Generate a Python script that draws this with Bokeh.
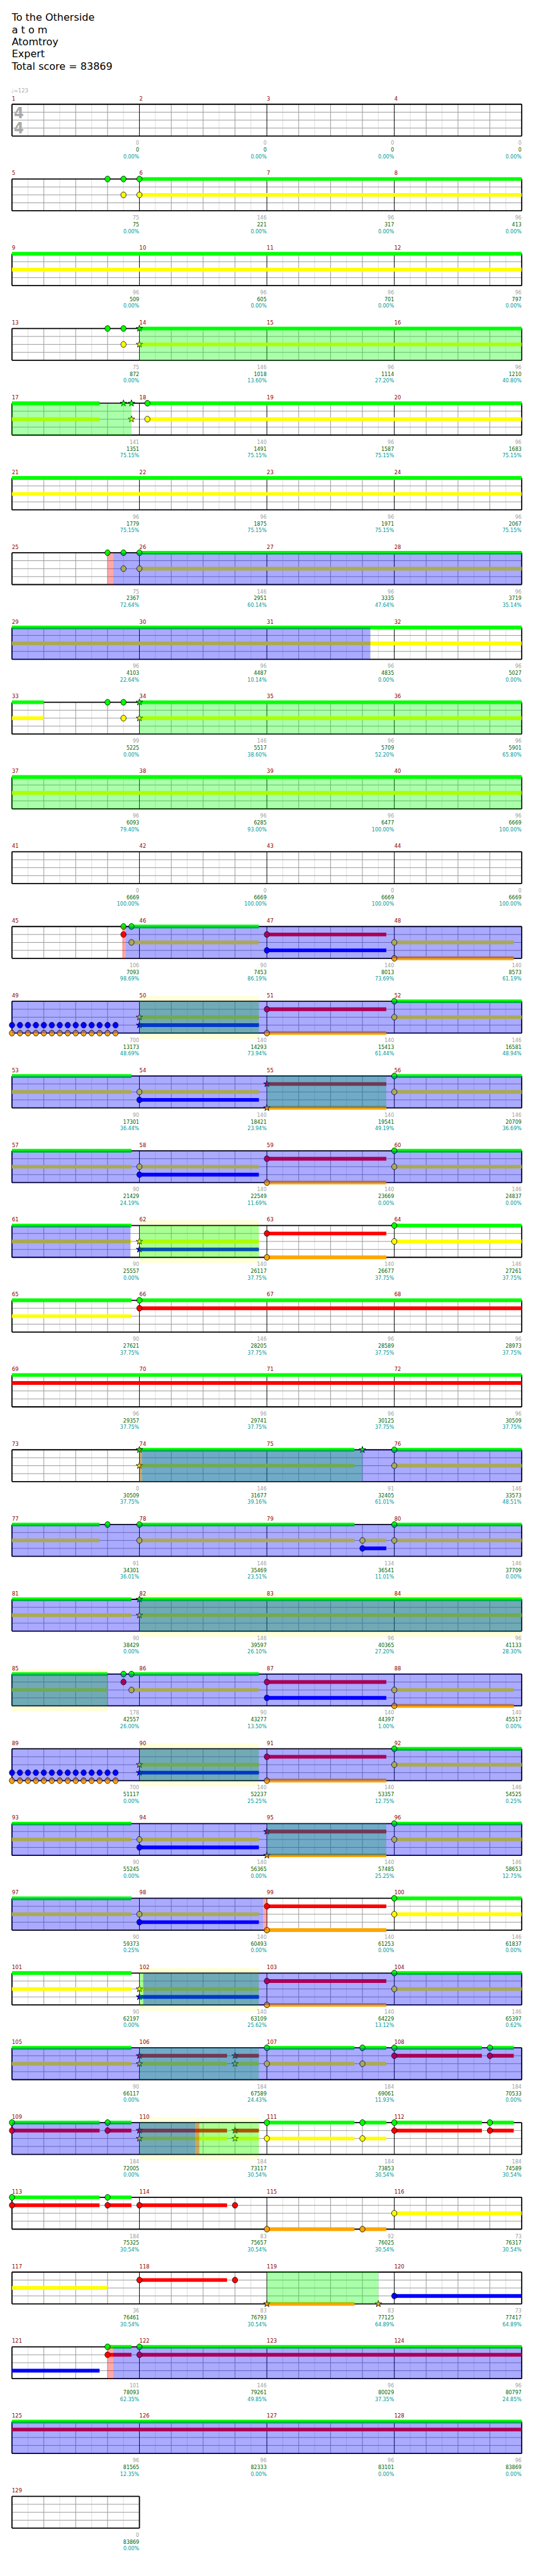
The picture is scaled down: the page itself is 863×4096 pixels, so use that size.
from bokeh.plotting import figure
from bokeh.models import Range1d, ColumnDataSource
from bokeh.core.properties import value
from bokeh.embed import file_html
from bokeh.resources import INLINE

# ---------------------------------------------------------------- data
title_lines = ["To the Otherside", "a t o m", "Atomtroy", "Expert", "Total score = 83869"]
tempo_text = "\u2669=123"
time_signature = ["4", "4"]
measure_count = 129

measure_points = [
    0, 0, 0, 0,          75, 146, 96, 96,      96, 96, 96, 96,       75, 146, 96, 96,
    141, 140, 96, 96,    96, 96, 96, 96,       75, 146, 96, 96,      96, 96, 96, 96,
    99, 146, 96, 96,     96, 96, 96, 96,       0, 0, 0, 0,           106, 90, 140, 140,
    700, 140, 140, 146,  90, 140, 140, 146,    90, 140, 140, 146,    90, 140, 140, 146,
    90, 146, 96, 96,     96, 96, 96, 96,       0, 146, 91, 146,      91, 146, 134, 146,
    90, 146, 96, 96,     178, 90, 140, 140,    700, 140, 140, 146,   90, 140, 140, 146,
    90, 140, 140, 146,   90, 140, 140, 146,    90, 184, 184, 184,    184, 184, 184, 184,
    184, 83, 92, 73,     36, 83, 83, 73,       101, 146, 96, 96,     96, 96, 96, 96,
    0,
]

cumulative_score = [
    0, 0, 0, 0,                 75, 221, 317, 413,          509, 605, 701, 797,
    872, 1018, 1114, 1210,      1351, 1491, 1587, 1683,     1779, 1875, 1971, 2067,
    2367, 2951, 3335, 3719,     4103, 4487, 4835, 5027,     5225, 5517, 5709, 5901,
    6093, 6285, 6477, 6669,     6669, 6669, 6669, 6669,     7093, 7453, 8013, 8573,
    13173, 14293, 15413, 16581, 17301, 18421, 19541, 20709, 21429, 22549, 23669, 24837,
    25557, 26117, 26677, 27261, 27621, 28205, 28589, 28973, 29357, 29741, 30125, 30509,
    30509, 31677, 32405, 33573, 34301, 35469, 36541, 37709, 38429, 39597, 40365, 41133,
    42557, 43277, 44397, 45517, 51117, 52237, 53357, 54525, 55245, 56365, 57485, 58653,
    59373, 60493, 61253, 61837, 62197, 63109, 64229, 65397, 66117, 67589, 69061, 70533,
    72005, 73117, 73853, 74589, 75325, 75657, 76025, 76317, 76461, 76793, 77125, 77417,
    78093, 79261, 80029, 80797, 81565, 82333, 83101, 83869,
    83869,
]

sp_percent = [
    0, 0, 0, 0,                 0, 0, 0, 0,                 0, 0, 0, 0,
    0, 13.60, 27.20, 40.80,     75.15, 75.15, 75.15, 75.15, 75.15, 75.15, 75.15, 75.15,
    72.64, 60.14, 47.64, 35.14, 22.64, 10.14, 0, 0,         0, 38.60, 52.20, 65.80,
    79.40, 93.00, 100, 100,     100, 100, 100, 100,         98.69, 86.19, 73.69, 61.19,
    48.69, 73.94, 61.44, 48.94, 36.44, 23.94, 49.19, 36.69, 24.19, 11.69, 0, 0,
    0, 37.75, 37.75, 37.75,     37.75, 37.75, 37.75, 37.75, 37.75, 37.75, 37.75, 37.75,
    37.75, 39.16, 61.01, 48.51, 36.01, 23.51, 11.01, 0,     0, 26.10, 27.20, 28.30,
    26.00, 13.50, 1.00, 0,      0, 25.25, 12.75, 0.25,      0, 0, 25.25, 12.75,
    0.25, 0, 0, 0,              0, 25.62, 13.12, 0.62,      0, 24.43, 11.93, 0,
    0, 30.54, 30.54, 30.54,     30.54, 30.54, 30.54, 30.54, 30.54, 30.54, 64.89, 64.89,
    62.35, 49.85, 37.35, 24.85, 12.35, 0, 0, 0,
    0,
]

# note positions: measure number + fraction of the measure
green_notes = [5.75, 5.875, 6.0, 13.75, 13.875, 18.0625, 25.75, 25.875, 26.0, 33.75, 33.875,
               45.875, 45.9375, 52.0, 56.0, 60.0, 64.0, 66.0, 76.0, 77.75, 78.0, 80.0,
               85.875, 85.9375, 92.0, 96.0, 100.0, 104.0, 107.0, 107.75, 108.0, 108.75,
               109.0, 109.75, 111.0, 111.75, 112.0, 112.75, 113.0, 113.75, 121.75, 122.0]
green_stars = [14.0, 17.875, 17.9375, 34.0, 74.0, 75.75, 82.0]

red_notes = [45.875, 47.0, 51.0, 59.0, 63.0, 66.0, 85.875, 87.0, 91.0, 99.0, 103.0,
             108.0, 108.75, 109.0, 109.75, 112.0, 112.75, 113.0, 113.75, 114.0, 114.75,
             118.0, 118.75, 121.75, 122.0]
red_stars = [55.0, 95.0, 106.0, 106.75, 110.0, 110.75]

yellow_notes = [5.875, 6.0, 13.875, 18.0625, 25.875, 26.0, 33.875, 45.9375, 48.0, 52.0, 54.0,
                56.0, 58.0, 60.0, 64.0, 76.0, 78.0, 79.75, 80.0, 85.9375, 88.0, 92.0, 94.0,
                96.0, 98.0, 100.0, 104.0, 107.0, 107.75, 111.0, 111.75, 116.0]
yellow_stars = [14.0, 17.9375, 34.0, 50.0, 62.0, 74.0, 82.0, 90.0, 102.0, 106.0, 106.75,
                110.0, 110.75]

blue_notes = [47.0,
              49.0, 49.0625, 49.125, 49.1875, 49.25, 49.3125, 49.375, 49.4375, 49.5, 49.5625,
              49.625, 49.6875, 49.75, 49.8125,
              54.0, 58.0, 79.75, 87.0,
              89.0, 89.0625, 89.125, 89.1875, 89.25, 89.3125, 89.375, 89.4375, 89.5, 89.5625,
              89.625, 89.6875, 89.75, 89.8125,
              94.0, 98.0, 120.0]
blue_stars = [50.0, 62.0, 90.0, 102.0]

kick_notes = [48.0,
              49.0, 49.0625, 49.125, 49.1875, 49.25, 49.3125, 49.375, 49.4375, 49.5, 49.5625,
              49.625, 49.6875, 49.75, 49.8125,
              51.0, 59.0, 63.0, 88.0,
              89.0, 89.0625, 89.125, 89.1875, 89.25, 89.3125, 89.375, 89.4375, 89.5, 89.5625,
              89.625, 89.6875, 89.75, 89.8125,
              91.0, 99.0, 103.0, 115.0, 115.75]
kick_stars = [55.0, 95.0, 119.0, 119.875]

green_bars = [[6.0, 13.0], [14.0, 17.6875], [18.0625, 25.0], [26.0, 33.25], [34.0, 41.0],
              [45.9375, 46.9375], [52.0, 53.9375], [56.0, 57.9375], [60.0, 61.9375],
              [64.0, 65.9375], [66.0, 73.0], [74.0, 75.6875], [76.0, 77.6875], [78.0, 79.6875],
              [80.0, 81.9375], [82.0, 85.75], [85.9375, 86.9375], [92.0, 93.9375],
              [96.0, 97.9375], [100.0, 101.9375], [104.0, 105.9375], [107.0, 107.6875],
              [107.75, 107.9375], [108.0, 108.6875], [108.75, 108.9375], [109.0, 109.6875],
              [109.75, 109.9375], [111.0, 111.6875], [111.75, 111.9375], [112.0, 112.6875],
              [112.75, 112.9375], [113.0, 113.6875], [113.75, 113.9375], [121.75, 121.9375],
              [122.0, 129.0]]
red_bars = [[47.0, 47.9375], [51.0, 51.9375], [55.0, 55.9375], [59.0, 59.9375], [63.0, 63.9375],
            [66.0, 73.0], [87.0, 87.9375], [91.0, 91.9375], [95.0, 95.9375], [99.0, 99.9375],
            [103.0, 103.9375], [106.0, 106.6875], [106.75, 106.9375], [108.0, 108.6875],
            [108.75, 108.9375], [109.0, 109.6875], [109.75, 109.9375], [110.0, 110.6875],
            [110.75, 110.9375], [112.0, 112.6875], [112.75, 112.9375], [113.0, 113.6875],
            [113.75, 113.9375], [114.0, 114.6875], [118.0, 118.6875], [121.75, 121.9375],
            [122.0, 129.0]]
yellow_bars = [[6.0, 13.0], [14.0, 17.6875], [18.0625, 25.0], [26.0, 33.25], [34.0, 41.0],
               [45.9375, 46.9375], [48.0, 48.9375], [50.0, 50.9375], [52.0, 53.9375],
               [54.0, 54.9375], [56.0, 57.9375], [58.0, 58.9375], [60.0, 61.9375],
               [62.0, 62.9375], [64.0, 65.9375], [74.0, 75.6875], [76.0, 77.6875],
               [78.0, 79.6875], [79.75, 79.9375], [80.0, 81.9375], [82.0, 85.75],
               [85.9375, 86.9375], [88.0, 88.9375], [90.0, 90.9375], [92.0, 93.9375],
               [94.0, 94.9375], [96.0, 97.9375], [98.0, 98.9375], [100.0, 101.9375],
               [102.0, 102.9375], [104.0, 105.9375], [106.0, 106.6875], [106.75, 106.9375],
               [107.0, 107.6875], [107.75, 107.9375], [110.0, 110.6875], [110.75, 110.9375],
               [111.0, 111.6875], [111.75, 111.9375], [116.0, 117.75]]
blue_bars = [[47.0, 47.9375], [50.0, 50.9375], [54.0, 54.9375], [58.0, 58.9375], [62.0, 62.9375],
             [79.75, 79.9375], [87.0, 87.9375], [90.0, 90.9375], [94.0, 94.9375], [98.0, 98.9375],
             [102.0, 102.9375], [120.0, 121.6875]]
kick_bars = [[48.0, 48.9375], [51.0, 51.9375], [55.0, 55.9375], [59.0, 59.9375], [63.0, 63.9375],
             [88.0, 88.9375], [91.0, 91.9375], [95.0, 95.9375], [99.0, 99.9375],
             [103.0, 103.9375], [115.0, 115.6875], [115.75, 115.9375], [119.0, 119.6875]]

sp_active = [[25.795, 31.8125], [45.89, 61.93], [74.02, 98.97], [102.03, 110.4375],
             [121.795, 129.0]]
sp_phrases = [[14.0, 17.9375], [34.0, 41.0], [50.0, 50.9375], [55.0, 55.9375], [62.0, 62.9375],
              [74.0, 75.75], [82.0, 85.75], [90.0, 90.9375], [95.0, 95.9375],
              [102.0, 102.9375], [106.0, 106.9375], [110.0, 110.9375], [119.0, 119.875]]
fill_zones = [[50.0, 50.9375], [62.0, 62.9375], [82.0, 85.75], [90.0, 90.9375],
              [102.0, 102.9375], [110.0, 110.9375]]
activation_marks = [[25.75, 25.795], [45.865, 45.89], [74.0, 74.02], [98.97, 99.0],
                    [110.4375, 110.47], [121.75, 121.795]]

lanes = [
    ("#00FF00", green_notes, green_stars, green_bars),
    ("#FF0000", red_notes, red_stars, red_bars),
    ("#FFFF00", yellow_notes, yellow_stars, yellow_bars),
    ("#0000FF", blue_notes, blue_stars, blue_bars),
    ("#FFA500", kick_notes, kick_stars, kick_bars),
]

# ---------------------------------------------------------------- layout
S = 0.843
FIG_W, FIG_H = 855, 4088
OFF = 8 / S
LEFT, MW, ROW_H, TOP0, LANE = 31.5, 240.25, 141.0, 205.5, 15.0
FONT = "DejaVu Sans Condensed"
FONT_T = "DejaVu Sans"


def row_of(pos):
    return int((pos - 1) // 4)


def xpos(pos, row):
    return LEFT + (pos - 1 - 4 * row) * MW


def top_of(row):
    return TOP0 + ROW_H * row


def segments(s, e):
    out = []
    for r in range(row_of(s), row_of(e - 1e-9) + 1):
        a = max(s, 1 + 4 * r)
        b = min(e, 1 + 4 * (r + 1))
        out.append((r, xpos(a, r), xpos(b, r)))
    return out


p = figure(width=FIG_W, height=FIG_H, output_backend="svg", toolbar_location=None, tools="",
           x_range=Range1d(OFF, OFF + FIG_W / S), y_range=Range1d(OFF + FIG_H / S, OFF),
           x_axis_location=None, y_axis_location=None, min_border=0,
           background_fill_color="white", border_fill_color="white", outline_line_color=None)
p.xgrid.visible = False
p.ygrid.visible = False


def add_quads(spans, y0f, y1f, color, alpha=1.0):
    L, R, T, B = [], [], [], []
    for s, e in spans:
        for r, x0, x1 in segments(s, e):
            t = top_of(r)
            L.append(x0); R.append(x1); T.append(t + y0f); B.append(t + y1f)
    p.quad(left=L, right=R, top=T, bottom=B, fill_color=color, fill_alpha=alpha, line_color=None)


def add_text(xs, ys, texts, size, color, align="left", font=FONT, style="normal"):
    src = ColumnDataSource(dict(x=xs, y=ys, t=texts))
    p.text(x="x", y="y", text="t", source=src, text_font=value(font),
           text_font_size=f"{size * S:.2f}px", text_color=color, text_align=align,
           text_baseline="middle", text_font_style=style)


# pale fill zones (behind everything)
add_quads(fill_zones, -10, 71, "#FFFFDA")

# staff grid
n_rows = (measure_count + 3) // 4
grid = {k: ([], [], [], []) for k in ("light", "mid", "black", "border")}


def seg(kind, x0, y0, x1, y1):
    g = grid[kind]
    g[0].append(x0); g[1].append(y0); g[2].append(x1); g[3].append(y1)


for r in range(n_rows):
    n = min(4, measure_count - 4 * r)
    t = top_of(r)
    xr = LEFT + n * MW
    for j in range(n):
        x0 = LEFT + j * MW
        for k in range(4):
            seg("light", x0 + (k + 0.5) * MW / 4, t, x0 + (k + 0.5) * MW / 4, t + 60)
        for k in range(1, 4):
            seg("mid", x0 + k * MW / 4, t, x0 + k * MW / 4, t + 60)
        if j > 0:
            seg("black", x0, t, x0, t + 60)
    for k in (1, 2, 3):
        seg("mid", LEFT, t + k * LANE, xr, t + k * LANE)
    seg("border", LEFT, t, xr, t)
    seg("border", LEFT, t + 60, xr, t + 60)
    seg("border", LEFT, t, LEFT, t + 60)
    seg("border", xr, t, xr, t + 60)

styles = {"light": ("#DEDEDE", 1.0), "mid": ("#9A9A9A", 1.0),
          "black": ("#000000", 1.0), "border": ("#000000", 1.8)}
for kind, (col, lw) in styles.items():
    g = grid[kind]
    p.segment(x0=g[0], y0=g[1], x1=g[2], y1=g[3], line_color=col, line_width=lw)

# time signature and tempo
add_text([44.5, 44.5], [221, 250], time_signature, 30, "#AAAAAA", align="center", style="bold")
add_text([30], [180], [tempo_text], 10, "#AAAAAA", font=FONT_T)

# bars, notes, stars
for li, (col, notes, stars, bars) in enumerate(lanes):
    add_quads(bars, li * LANE - 3.5, li * LANE + 3.5, col)
for li, (col, notes, stars, bars) in enumerate(lanes):
    xs = [xpos(v, row_of(v)) for v in notes]
    ys = [top_of(row_of(v)) + li * LANE for v in notes]
    p.ellipse(x=xs, y=ys, width=10, height=11, fill_color=col, line_color="black", line_width=0.8)
    xs = [xpos(v, row_of(v)) for v in stars]
    ys = [top_of(row_of(v)) + li * LANE for v in stars]
    p.scatter(x=xs, y=ys, marker="star", size=13 * S, fill_color=col, line_color="black",
              line_width=0.8)

# overlays
add_quads(sp_phrases, 0, 60, "#00FF00", 1 / 3)
add_quads(sp_active, 0, 60, "#0000FF", 1 / 3)
add_quads(activation_marks, 0, 60, "#FF0000", 1 / 3)

# texts
add_text([31] * len(title_lines), [41.7, 65.0, 88.3, 110.7, 134.3], title_lines, 19, "#000000",
         font=FONT_T)

mx, my, mt = [], [], []
gx, gy1, gy2, gy3, gt1, gt2, gt3 = [], [], [], [], [], [], []
for m in range(1, measure_count + 1):
    r = (m - 1) // 4
    t = top_of(r)
    mx.append(xpos(m, r)); my.append(t - 11.5); mt.append(str(m))
    xe = xpos(m + 1, r) - 0.5
    gx.append(xe)
    gy1.append(t + 72.5); gy2.append(t + 85.5); gy3.append(t + 98.5)
    gt1.append(str(measure_points[m - 1]))
    gt2.append(str(cumulative_score[m - 1]))
    gt3.append(f"{sp_percent[m - 1]:.2f}%")

add_text(mx, my, mt, 11, "#8B0000")
add_text(gx, gy1, gt1, 10.5, "#9E9E9E", align="right")
add_text(gx, gy2, gt2, 10.5, "#006400", align="right")
add_text(gx, gy3, gt3, 10.5, "#009999", align="right")

with open("out.html", "w") as f:
    f.write(file_html(p, INLINE))
